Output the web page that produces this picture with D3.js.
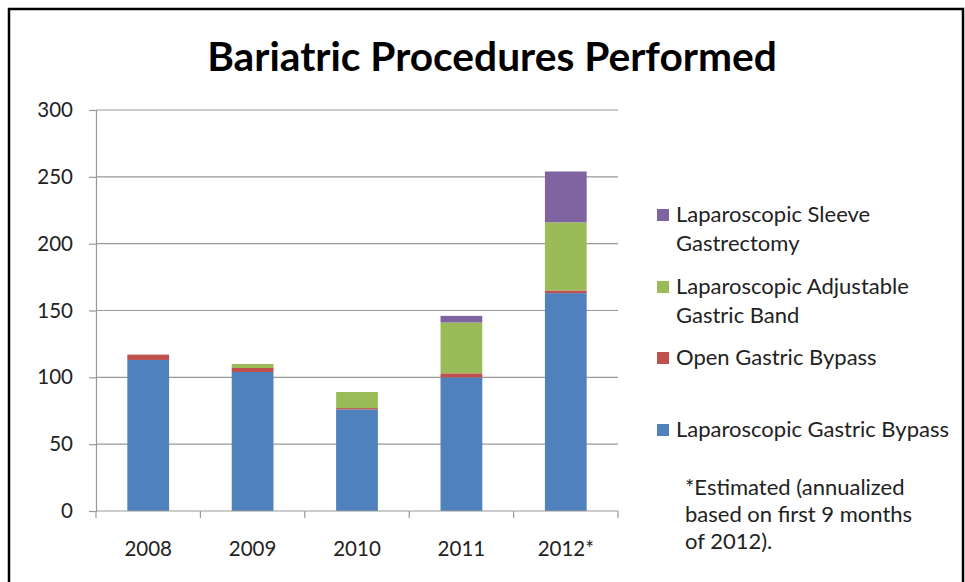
<!DOCTYPE html>
<html>
<head>
<meta charset="utf-8">
<script src="https://cdn.jsdelivr.net/npm/d3@7"></script>
<style>
  body { margin: 0; background: #fff; }
  svg { display: block; font-family: Lato, "Open Sans", sans-serif; }
</style>
</head>
<body>
<div id="chart"></div>
<script>
// data
var years = ["2008", "2009", "2010", "2011", "2012*"];
var lapBypass = [113, 104, 76, 100, 163];
var openBypass = [4, 3, 1, 3, 2];
var lapBand = [0, 3, 12, 38, 51];
var sleeve = [0, 0, 0, 5, 38];
var seriesNames = ["Laparoscopic Gastric Bypass", "Open Gastric Bypass",
    "Laparoscopic Adjustable Gastric Band", "Laparoscopic Sleeve Gastrectomy"];
var colors = ["#4F81BD", "#C0504D", "#9BBB59", "#8064A2"];
var yTicks = [0, 50, 100, 150, 200, 250, 300];

var width = 965, height = 582;
var margin = { left: 96, right: 347, top: 110, bottom: 71 };
var w = width - margin.left - margin.right;
var h = height - margin.top - margin.bottom;

var svg = d3.select('#chart')
    .append('svg')
    .attr('width', width)
    .attr('height', height);

// outer frame
svg.append('rect')
    .attr('x', 9).attr('y', 9)
    .attr('width', 954).attr('height', 600)
    .attr('fill', 'none')
    .attr('stroke', '#000')
    .attr('stroke-width', 2.5);

svg.append('text')
    .attr('x', 492).attr('y', 71)
    .attr('text-anchor', 'middle')
    .attr('font-size', 40.7)
    .attr('font-weight', 'bold')
    .attr('fill', '#000')
    .text('Bariatric Procedures Performed');

var g = svg.append('g')
    .attr('transform', 'translate(' + margin.left + ',' + margin.top + ')');

var rows = years.map(function (y, i) {
    return { year: y, s0: lapBypass[i], s1: openBypass[i], s2: lapBand[i], s3: sleeve[i] };
});
var stack = d3.stack().keys(['s0', 's1', 's2', 's3'])(rows);

var x = d3.scaleBand().domain(years).range([0, w]).paddingInner(0.6).paddingOuter(0.3);
var xb = d3.scaleBand().domain(years).range([0, w]);
var y = d3.scaleLinear().domain([0, 300]).range([h, 0]);

// gridlines
g.append('g')
    .selectAll('line')
    .data(yTicks.slice(1))
    .enter()
    .append('line')
    .attr('x1', 0).attr('x2', w)
    .attr('y1', d => y(d)).attr('y2', d => y(d))
    .attr('stroke', '#999')
    .attr('stroke-width', 1.2);

// bars
g.selectAll('.layer')
    .data(stack)
    .enter()
    .append('g')
    .attr('fill', (d, i) => colors[i])
    .selectAll('rect')
    .data(d => d)
    .enter()
    .append('rect')
    .attr('x', d => x(d.data.year))
    .attr('width', x.bandwidth())
    .attr('y', d => y(d[1]))
    .attr('height', d => y(d[0]) - y(d[1]));

// y axis
var yAxis = g.append('g')
    .call(d3.axisLeft(y).tickValues(yTicks).tickSize(7).tickPadding(16));
yAxis.selectAll('line, path').attr('stroke', '#999').attr('stroke-width', 1.2);
yAxis.selectAll('text').attr('font-size', 20.5).attr('fill', '#222')
    .attr('font-family', 'Lato, sans-serif');

// x axis with ticks at band edges
var xAxis = g.append('g')
    .attr('transform', 'translate(0,' + h + ')');
xAxis.append('line')
    .attr('x1', 0).attr('x2', w)
    .attr('stroke', '#999').attr('stroke-width', 1.2);
xAxis.selectAll('.tk')
    .data(years.concat(['end']))
    .enter()
    .append('line')
    .attr('x1', (d, i) => i * xb.step()).attr('x2', (d, i) => i * xb.step())
    .attr('y1', 0).attr('y2', 7)
    .attr('stroke', '#999').attr('stroke-width', 1.2);
xAxis.selectAll('text')
    .data(years)
    .enter()
    .append('text')
    .attr('x', d => xb(d) + xb.bandwidth() / 2)
    .attr('y', 45)
    .attr('text-anchor', 'middle')
    .attr('font-size', 20.5)
    .attr('fill', '#222')
    .text(d => d);

// legend
var legendItems = [
    { c: 3, lines: ['Laparoscopic Sleeve', 'Gastrectomy'], y: 215 },
    { c: 2, lines: ['Laparoscopic Adjustable', 'Gastric Band'], y: 287 },
    { c: 1, lines: ['Open Gastric Bypass'], y: 358 },
    { c: 0, lines: ['Laparoscopic Gastric Bypass'], y: 430 }
];
var lg = svg.append('g');
legendItems.forEach(function (it) {
    lg.append('rect')
        .attr('x', 657).attr('y', it.y - 6)
        .attr('width', 12).attr('height', 12)
        .attr('fill', colors[it.c]);
    lg.append('text')
        .attr('x', 676).attr('y', it.y + 7)
        .attr('font-size', 22)
        .attr('fill', '#222')
        .selectAll('tspan')
        .data(it.lines)
        .enter()
        .append('tspan')
        .attr('x', 676)
        .attr('dy', (d, i) => i ? 28.5 : 0)
        .text(d => d);
});

var note = ['*Estimated (annualized', 'based on first 9 months', 'of 2012).'];
svg.append('text')
    .attr('x', 685).attr('y', 495)
    .attr('font-size', 22)
    .attr('fill', '#222')
    .selectAll('tspan')
    .data(note)
    .enter()
    .append('tspan')
    .attr('x', 685)
    .attr('dy', (d, i) => i ? 27 : 0)
    .text(d => d);
</script>
</body>
</html>
